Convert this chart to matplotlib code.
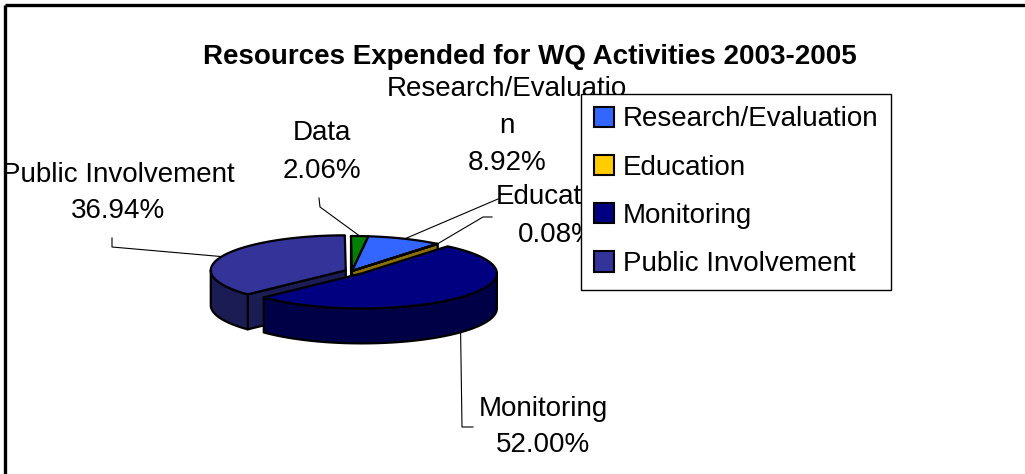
import numpy as np
import matplotlib
matplotlib.use("Agg")
import matplotlib.pyplot as plt
from matplotlib.patches import Polygon, Patch

# данные диаграммы
categories = ["Research/Evaluation", "Education", "Monitoring", "Public Involvement", "Data"]
shares = [8.92, 0.08, 52.00, 36.94, 2.06]
label_texts = ["Research/Evaluatio\nn\n8.92%", "Education\n0.08%", "Monitoring\n52.00%",
               "Public Involvement\n36.94%", "Data\n2.06%"]
top_colors = ["#3366FF", "#FFCC00", "#000080", "#333399", "#008000"]
explode = [0.0, 0.0, 0.10, 0.05, 0.0]
legend_items = categories[:4]
title = "Resources Expended for WQ Activities 2003-2005"

plt.rcParams["font.family"] = ["Liberation Sans", "DejaVu Sans"]

# геометрия псевдо-3D круговой диаграммы (в пикселях)
cx, cy = 352, 271
rx, ry = 135, 35
depth = 35
start_angle = 7.0
shade = 0.55

# положение подписей и выносок
label_pos = [(507, 126), (557, 216), (543, 427), (118, 193), (322, 152)]
leader_start = [(498, 199), (492, 217), (473, 427), (112, 238), (319, 198)]
leader_elbow = [(498, 199), (483, 217), (462, 427), (112, 247), (320, 207)]


def darker(color, k):
    rgb = np.array(matplotlib.colors.to_rgb(color))
    return tuple(rgb * k)


def rim(theta, ox, oy, dz=0.0):
    t = np.radians(theta)
    return ox + rx * np.sin(t), oy - ry * np.cos(t) + dz


fig = plt.figure(figsize=(10.25, 4.74), dpi=100)
ax = fig.add_axes([0, 0, 1, 1])
ax.set_xlim(0, 1025)
ax.set_ylim(474, 0)
ax.axis("off")

total = sum(shares)
bounds = start_angle + 360.0 * np.concatenate([[0], np.cumsum(shares)]) / total

slices = []
for i in range(len(shares)):
    a0, a1 = bounds[i], bounds[i + 1]
    mid = (a0 + a1) / 2
    t = np.radians(mid)
    ox = cx + explode[i] * rx * np.sin(t)
    oy = cy - explode[i] * ry * np.cos(t)
    slices.append((i, a0, a1, mid, ox, oy))

# рисуем от дальних секторов к ближним
order = sorted(slices, key=lambda s: -np.cos(np.radians(s[3])))
edge = dict(edgecolor="black", linewidth=1.6, joinstyle="round")
for i, a0, a1, mid, ox, oy in order:
    side = darker(top_colors[i], shade)
    # радиальные грани
    for a, sgn in ((a0, -1), (a1, 1)):
        normal = a + sgn * 90
        if -np.cos(np.radians(normal)) > 0:
            x1, y1 = rim(a, ox, oy)
            face = [(ox, oy), (x1, y1), (x1, y1 + depth), (ox, oy + depth)]
            ax.add_patch(Polygon(face, closed=True, facecolor=side, **edge))
    # внешняя стенка (только передняя половина)
    lo, hi = max(a0, 90.0), min(a1, 270.0)
    if hi > lo:
        th = np.linspace(lo, hi, 80)
        upper = [rim(a, ox, oy) for a in th]
        lower = [rim(a, ox, oy, depth) for a in th[::-1]]
        ax.add_patch(Polygon(upper + lower, closed=True, facecolor=side, **edge))
    # верхняя грань
    th = np.linspace(a0, a1, max(int((a1 - a0) * 2), 2))
    top = [(ox, oy)] + [rim(a, ox, oy) for a in th]
    top_color = top_colors[i] if (a1 - a0) > 1 else side
    ax.add_patch(Polygon(top, closed=True, facecolor=top_color, **edge))

# выноски и подписи
for i, a0, a1, mid, ox, oy in slices:
    front = -np.cos(np.radians(mid)) > 0
    ex, ey = rim(mid, ox, oy, depth if front else 0.0)
    xs = [leader_start[i][0], leader_elbow[i][0], ex]
    ys = [leader_start[i][1], leader_elbow[i][1], ey]
    ax.plot(xs, ys, color="black", lw=0.8, zorder=5)
    ax.text(label_pos[i][0], label_pos[i][1], label_texts[i], ha="center", va="center",
            fontsize=20, linespacing=1.55, zorder=6)

ax.text(530, 57, title, ha="center", va="center", fontsize=20, fontweight="bold")

# рамка области диаграммы (видны только верх и левая сторона)
ax.plot([5, 1025], [4.5, 4.5], color="black", lw=2.4, solid_capstyle="butt")
ax.plot([5, 5], [4.5, 474], color="black", lw=2.4, solid_capstyle="butt")

handles = [Patch(facecolor=top_colors[i], edgecolor="black", linewidth=1.5)
           for i in range(len(legend_items))]
leg = fig.legend(handles, legend_items, loc="upper left",
                 bbox_to_anchor=(581 / 1025, 1 - 94 / 474), fontsize=20,
                 frameon=True, fancybox=False, framealpha=1, edgecolor="black",
                 handlelength=0.75, handleheight=0.75, handletextpad=0.3,
                 labelspacing=0.8, borderpad=0.45, borderaxespad=0)
leg.get_frame().set_linewidth(1.0)

fig.savefig("out.png", dpi=100)
